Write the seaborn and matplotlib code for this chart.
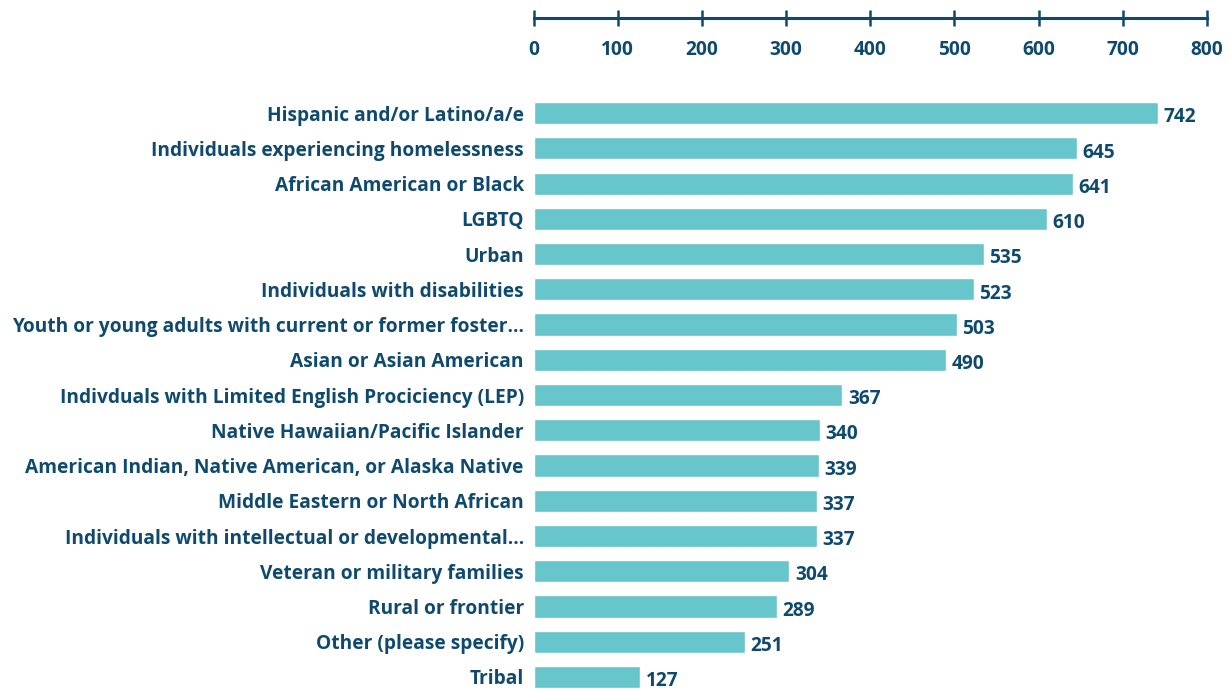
import matplotlib
matplotlib.use("Agg")
import matplotlib.pyplot as plt
import seaborn as sns
import pandas as pd

categories = [
    "Hispanic and/or Latino/a/e",
    "Individuals experiencing homelessness",
    "African American or Black",
    "LGBTQ",
    "Urban",
    "Individuals with disabilities",
    "Youth or young adults with current or former foster...",
    "Asian or Asian American",
    "Indivduals with Limited English Prociciency (LEP)",
    "Native Hawaiian/Pacific Islander",
    "American Indian, Native American, or Alaska Native",
    "Middle Eastern or North African",
    "Individuals with intellectual or developmental...",
    "Veteran or military families",
    "Rural or frontier",
    "Other (please specify)",
    "Tribal",
]
values = [742, 645, 641, 610, 535, 523, 503, 490, 367, 340, 339, 337, 337, 304, 289, 251, 127]
x_ticks = [0, 100, 200, 300, 400, 500, 600, 700, 800]

BAR = "#67C5CC"
TXT = "#0F4A6E"
FS = 13.8

sns.set_theme(style="white")
plt.rcParams["font.family"] = ["Open Sans", "DejaVu Sans"]

df = pd.DataFrame({"category": categories, "value": values})

fig = plt.figure(figsize=(12.3, 6.9), dpi=100)
ax = fig.add_axes([533.5 / 1230, 0.0, (1207 - 533.5) / 1230, 1 - 18 / 690])

sns.barplot(data=df, y="category", x="value", orient="h", color=BAR,
            saturation=1, width=0.63, ax=ax)

ax.set_xlim(0, 800)
ax.set_ylim(16.37, -2.70)
ax.set_xticks(x_ticks)
ax.set_xticklabels([str(t) for t in x_ticks])
ax.set_xlabel("")
ax.set_ylabel("")

for s in ["left", "right", "top"]:
    ax.spines[s].set_visible(False)
ax.spines["bottom"].set_position(("axes", 1.0))
ax.spines["bottom"].set_color(TXT)
ax.spines["bottom"].set_linewidth(2.2)

ax.tick_params(axis="x", direction="inout", length=12, width=1.8, color=TXT,
               labelsize=FS, labelcolor=TXT, pad=10, bottom=True)
ax.tick_params(axis="y", length=0, labelsize=FS, labelcolor=TXT, pad=7)
for lab in ax.get_xticklabels() + ax.get_yticklabels():
    lab.set_fontweight("bold")

for i, v in enumerate(values):
    ax.annotate(str(v), xy=(v, i), xytext=(4, -3), textcoords="offset points",
                ha="left", va="center", fontsize=FS, fontweight="bold",
                color=TXT, annotation_clip=False)

fig.savefig("out.png", dpi=100)
